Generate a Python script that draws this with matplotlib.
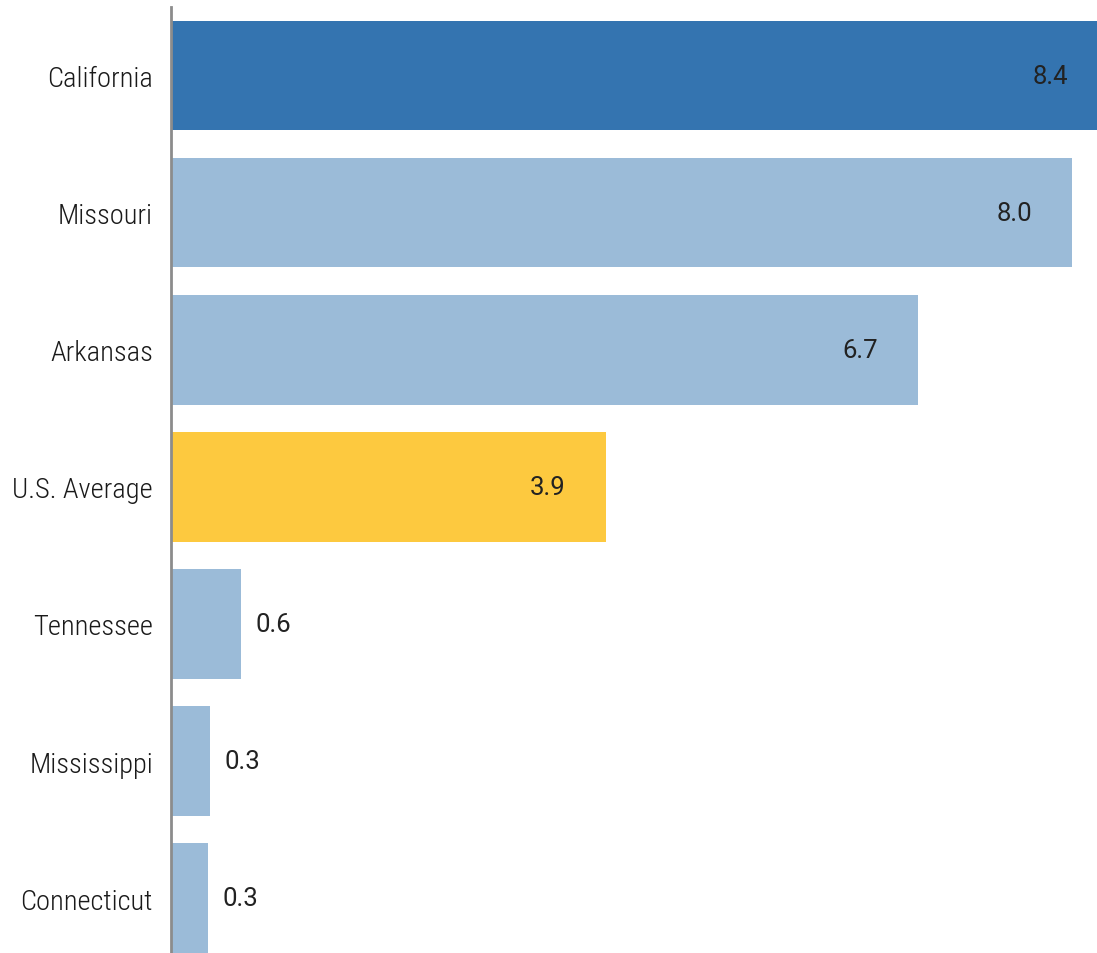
import matplotlib
matplotlib.use("Agg")
import matplotlib.pyplot as plt

# ---- data ----
states = ["California", "Missouri", "Arkansas", "U.S. Average",
          "Tennessee", "Mississippi", "Connecticut"]
values = [8.4, 8.08, 6.7, 3.9, 0.63, 0.35, 0.33]   # bar lengths
value_labels = ["8.4", "8.0", "6.7", "3.9", "0.6", "0.3", "0.3"]
bar_colors = ["#3474B0", "#9BBBD8", "#9BBBD8", "#FDC93F",
              "#9BBBD8", "#9BBBD8", "#9BBBD8"]

W, H = 1097, 954
fig = plt.figure(figsize=(W / 100, H / 100), dpi=100)
fig.patch.set_facecolor("white")

# axes: left edge at x=171, top at y=8, runs to the right/bottom edges
ax = fig.add_axes([171 / W, 0, 1 - 171 / W, 1 - 8 / H])

y_pos = list(range(len(states)))
ax.barh(y_pos, values, height=0.8, color=bar_colors, zorder=2)

ax.set_xlim(0, 8.3)
ax.set_ylim(6.4, -0.5)

value_font = ["Roboto", "DejaVu Sans"]
for y, v, lab in zip(y_pos, values, value_labels):
    if v > 2:
        ax.text(v - 0.36, y, lab, ha="right", va="center",
                fontsize=18.5, family=value_font, color="#222222")
    else:
        ax.text(v + 0.13, y, lab, ha="left", va="center",
                fontsize=18.5, family=value_font, color="#222222")

ax.set_yticks(y_pos)
ax.set_yticklabels(states, fontsize=20.5, fontweight="light",
                   family=["Roboto Condensed", "DejaVu Sans"],
                   color="#1a1a1a")
ax.tick_params(axis="y", length=0, pad=13)
ax.set_xticks([])

for side in ("top", "right", "bottom"):
    ax.spines[side].set_visible(False)
ax.spines["left"].set_color("#8c8c8c")
ax.spines["left"].set_linewidth(2)
ax.spines["left"].set_zorder(3)

fig.savefig("out.png", dpi=100, facecolor="white")
